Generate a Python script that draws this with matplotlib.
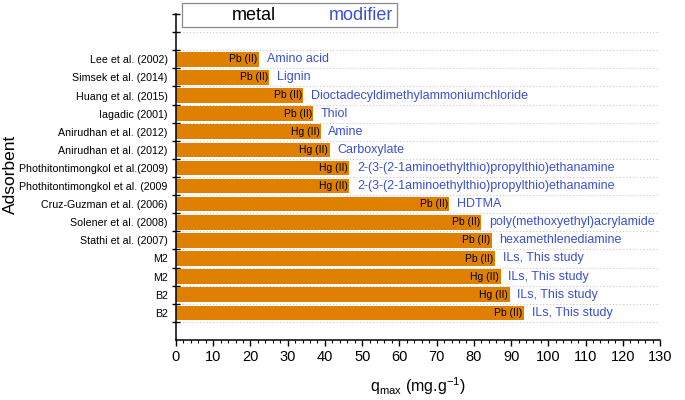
import matplotlib
matplotlib.use("Agg")
import matplotlib.pyplot as plt
from matplotlib.patches import Rectangle
from matplotlib.ticker import MultipleLocator, FixedLocator
import numpy as np

plt.rcParams['font.family'] = ['Liberation Sans', 'DejaVu Sans']
plt.rcParams['mathtext.fontset'] = 'custom'
plt.rcParams['mathtext.rm'] = 'Liberation Sans'

adsorbents = ["Lee et al. (2002)", "Simsek et al. (2014)", "Huang et al. (2015)",
              "Iagadic (2001)", "Anirudhan et al. (2012)", "Anirudhan et al. (2012)",
              "Phothitontimongkol et al.(2009)", "Phothitontimongkol et al. (2009",
              "Cruz-Guzman et al. (2006)", "Solener et al. (2008)", "Stathi et al. (2007)",
              "M2", "M2", "B2", "B2"]
qmax = [22.3, 25.1, 34.2, 36.9, 38.9, 41.3, 46.6, 46.6, 73.4, 82.0, 84.8, 85.7, 87.2, 89.6, 93.5]
metals = ["Pb (II)", "Pb (II)", "Pb (II)", "Pb (II)", "Hg (II)", "Hg (II)", "Hg (II)", "Hg (II)",
          "Pb (II)", "Pb (II)", "Pb (II)", "Pb (II)", "Hg (II)", "Hg (II)", "Pb (II)"]
modifiers = ["Amino acid", "Lignin", "Dioctadecyldimethylammoniumchloride", "Thiol", "Amine",
             "Carboxylate", "2-(3-(2-1aminoethylthio)propylthio)ethanamine",
             "2-(3-(2-1aminoethylthio)propylthio)ethanamine", "HDTMA",
             "poly(methoxyethyl)acrylamide", "hexamethlenediamine",
             "ILs, This study", "ILs, This study", "ILs, This study", "ILs, This study"]

BAR = '#E08000'
BLUE = '#3A50D2'

fig = plt.figure(figsize=(6.85, 4.0), dpi=100)
ax = fig.add_axes([176/685, 1-340/400, (660-176)/685, (340-14)/400])

n = len(adsorbents)
ypos = np.arange(n)
ax.barh(ypos, qmax, height=0.8, color=BAR, edgecolor='none', zorder=2)

ax.set_xlim(0, 130)
ax.set_ylim(n + 0.5, -2.5)

# slot boundaries; dotted grid below the first one
bounds = np.arange(-2.5, n, 1.0)
for b in bounds[1:]:
    ax.axhline(b, color='#c8c8c8', lw=0.8, ls=(0, (1, 2)), zorder=1)

ax.yaxis.set_major_locator(FixedLocator(bounds))
ax.set_yticklabels([])
ax.yaxis.set_minor_locator(FixedLocator(ypos))
ax.set_yticklabels(adsorbents, minor=True, fontsize=7.7)
ax.tick_params(axis='y', which='major', direction='inout', length=6, width=1)
ax.tick_params(axis='y', which='minor', length=0, pad=6)

ax.xaxis.set_major_locator(MultipleLocator(10))
ax.xaxis.set_minor_locator(MultipleLocator(2))
ax.tick_params(axis='x', which='major', direction='out', length=4.5, width=1, labelsize=10.5, pad=3)
ax.tick_params(axis='x', which='minor', direction='out', length=2.5, width=0.8)

for s in ['top', 'right']:
    ax.spines[s].set_visible(False)
for s in ['left', 'bottom']:
    ax.spines[s].set_linewidth(1.1)

for y, v, m, mod in zip(ypos, qmax, metals, modifiers):
    ax.annotate(m, (v, y), xytext=(-1, 0), textcoords='offset points',
                ha='right', va='center', fontsize=7.5, color='black', zorder=3)
    ax.annotate(mod, (v, y), xytext=(5.5, 0), textcoords='offset points',
                ha='left', va='center', fontsize=9, color=BLUE, zorder=3)

ax.set_xlabel(r'q$_{\mathregular{max}}$ (mg.g$^{\mathregular{-1}}$)', fontsize=11.5, labelpad=8)
fig.text(10/685, 1-174/400, 'Adsorbent', rotation=90, ha='center', va='center', fontsize=12.5)

# legend box
fig.patches.append(Rectangle((182/685, 1-27/400), 215/685, 24/400, transform=fig.transFigure,
                             facecolor='white', edgecolor='#888888', lw=0.9, zorder=5))
fig.text(254/685, 1-15/400, 'metal', ha='center', va='center', fontsize=13, color='black', zorder=6)
fig.text(361/685, 1-15/400, 'modifier', ha='center', va='center', fontsize=13, color=BLUE, zorder=6)

fig.savefig('out.png', dpi=100)
